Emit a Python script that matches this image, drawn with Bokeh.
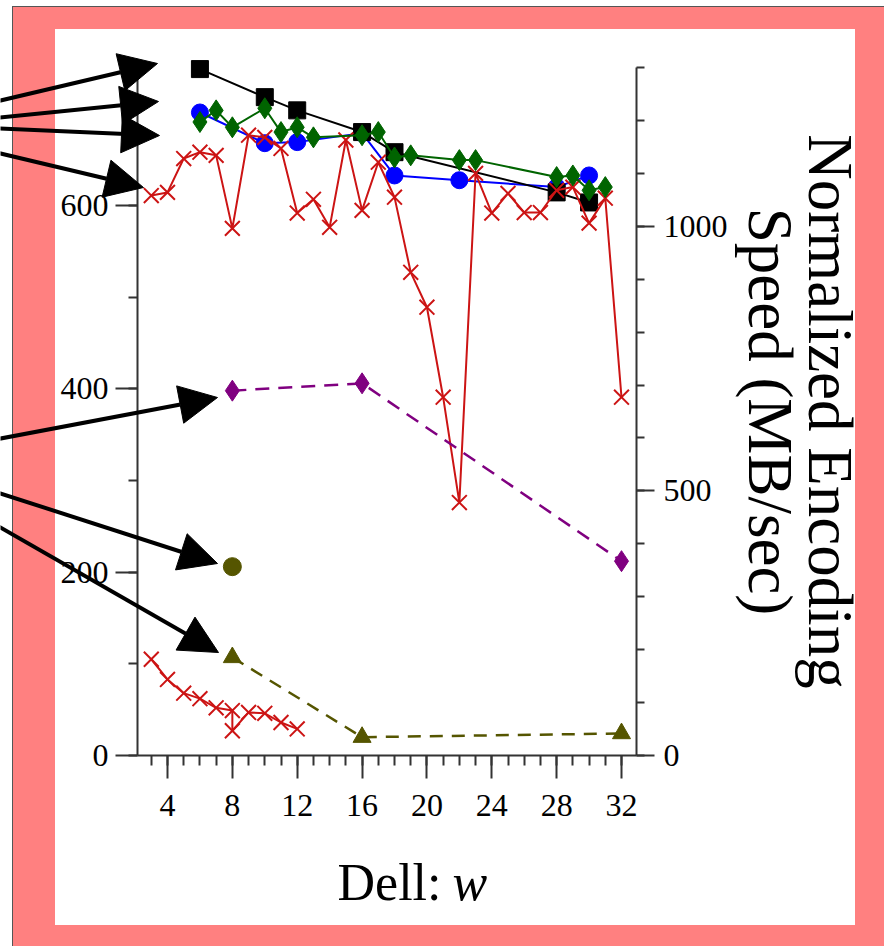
from bokeh.plotting import figure
from bokeh.models import (Range1d, LinearAxis, FixedTicker, Arrow, NormalHead,
                          Label)
from bokeh.embed import file_html
from bokeh.resources import INLINE

# ---------------- data ----------------
# Normalized encoding speed (MB/sec) -> right axis
w_sq = [6, 10, 12, 16, 18, 28, 30]
v_sq = [1297, 1244, 1219, 1178, 1140, 1064, 1045]
w_ci = [6, 10, 12, 16, 18, 22, 28, 30]
v_ci = [1215, 1157, 1159, 1176, 1096, 1087, 1074, 1096]
w_di = [6, 7, 8, 10, 11, 12, 13, 16, 17, 18, 19, 22, 23, 28, 29, 30, 31]
v_di = [1197, 1219, 1187, 1223, 1178, 1187, 1168, 1172, 1178, 1130, 1134,
        1125, 1125, 1093, 1096, 1068, 1074]
w_x = [3, 4, 5, 6, 7, 8, 9, 10, 11, 12, 13, 14, 15, 16, 17, 18, 19, 20, 21,
       22, 23, 24, 25, 26, 27, 28, 29, 30, 31, 32]
v_x = [1058, 1064, 1128, 1140, 1134, 996, 1172, 1168, 1147, 1025, 1051, 998,
       1163, 1030, 1121, 1055, 913, 847, 677, 478, 1100, 1025, 1062, 1026,
       1026, 1068, 1074, 1006, 1053, 677]
# left axis series
w_pd = [8, 16, 32]
v_pd = [398, 406, 212]
w_oc = [8]
v_oc = [206]
w_tr = [8, 16, 32]
v_tr = [107, 20, 24]
w_lx = [3, 4, 5, 6, 7, 8, 8, 9, 10, 11, 12]
v_lx = [105, 83, 68, 62, 52, 49, 27, 47, 46, 36, 29]

# ticks
x_major = [4, 8, 12, 16, 20, 24, 28, 32]
x_minor = list(range(3, 33))
yl_major = [0, 200, 400, 600]
yl_minor = [0, 100, 200, 300, 400, 500, 600, 700]
yr_major = [0, 500, 1000]
yr_minor = [0, 100, 200, 300, 400, 500, 600, 700, 800, 900, 1000, 1100, 1200, 1300]

# ---------------- geometry (canvas pixels) ----------------
W, H = 884, 946
AX_L, AX_R, AX_T, AX_B = 137, 636, 67, 755      # where the axes sit
PX_X4, PX_X32 = 167, 621                        # x=4 and x=32
PY_L600 = 205                                   # left value 600
R_TOP = 1300.0                                  # right axis top value

kx = (PX_X32 - PX_X4) / 28.0
ky = (AX_B - PY_L600) / 600.0
kr = (AX_B - AX_T) / R_TOP
x_lo = 4 - PX_X4 / kx
x_hi = x_lo + W / kx
y_lo = -(H - AX_B) / ky
y_hi = AX_B / ky
r_lo = -(H - AX_B) / kr
r_hi = AX_B / kr


def dx(px):
    return x_lo + px / kx


def dy(py):
    return (AX_B - py) / ky


SERIF = "Liberation Serif"

p = figure(width=W, height=H, min_border=0,
           x_range=Range1d(x_lo, x_hi), y_range=Range1d(y_lo, y_hi),
           output_backend="svg", toolbar_location=None,
           background_fill_color=None, border_fill_color=None,
           outline_line_color=None, x_axis_type=None, y_axis_type=None)
p.styles = {
    "background": (
        "linear-gradient(#ffffff,#ffffff) 55px 29px / 800px 896px no-repeat, "
        "linear-gradient(#FF8080,#FF8080) 13px 7px / 2000px 2000px no-repeat, "
        "linear-gradient(#555555,#555555) 12px 6px / 2000px 2000px no-repeat, "
        "#ffffff"
    )
}
p.extra_y_ranges = {"speed": Range1d(r_lo, r_hi)}


def style_axis(ax, major, minor, tout, mout, standoff):
    ax.ticker = FixedTicker(ticks=major, minor_ticks=minor)
    ax.axis_line_color = "#333333"
    ax.axis_line_width = 2
    ax.major_tick_line_color = "#333333"
    ax.major_tick_line_width = 2
    ax.minor_tick_line_color = "#333333"
    ax.minor_tick_line_width = 2
    ax.major_tick_in = 0
    ax.minor_tick_in = 0
    ax.major_tick_out = tout
    ax.minor_tick_out = mout
    ax.major_label_text_font = SERIF
    ax.major_label_text_font_size = "32px"
    ax.major_label_text_color = "black"
    ax.major_label_standoff = standoff


xax = LinearAxis(fixed_location=0, bounds=(dx(AX_L), dx(AX_R)))
style_axis(xax, x_major, x_minor, 23, 10, 16)
p.add_layout(xax, "below")

lax = LinearAxis(fixed_location=dx(AX_L), bounds=(0, dy(AX_T)))
style_axis(lax, yl_major, yl_minor, 22, 9, 7)
p.add_layout(lax, "left")

rax = LinearAxis(y_range_name="speed", fixed_location=dx(AX_R),
                 bounds=(0, R_TOP))
style_axis(rax, yr_major, yr_minor, 18, 8, 9)
rax.axis_label = "Normalized Encoding\nSpeed (MB/sec)"
rax.axis_label_text_font = SERIF
rax.axis_label_text_font_style = "normal"
rax.axis_label_text_color = "black"
rax.axis_label_text_font_size = "63px"
rax.axis_label_text_line_height = 0.86
rax.axis_label_standoff = 4
p.add_layout(rax, "right")

# x axis title "Dell: w" (w in italics)
p.add_layout(Label(x=dx(337), y=dy(882), text="Dell:", text_font=SERIF,
                   text_font_size="52px", text_align="left",
                   text_baseline="alphabetic", text_color="black"))
p.add_layout(Label(x=dx(452), y=dy(882), text="w", text_font=SERIF,
                   text_font_style="italic", text_font_size="52px",
                   text_align="left", text_baseline="alphabetic",
                   text_color="black"))

# ---------------- series ----------------
RED = "#CC1414"
GREEN = "#006400"
BLUE = "#0000FF"
PURPLE = "#800080"
OLIVE = "#555500"

# upper group (right axis)
p.line(w_ci, v_ci, y_range_name="speed", line_color=BLUE, line_width=2)
p.scatter(w_ci, v_ci, y_range_name="speed", marker="circle", size=17,
          fill_color=BLUE, line_color=BLUE)
p.line(w_sq, v_sq, y_range_name="speed", line_color="black", line_width=2)
p.scatter(w_sq, v_sq, y_range_name="speed", marker="square", size=17,
          fill_color="black", line_color="black")
p.line(w_x, v_x, y_range_name="speed", line_color=RED, line_width=2)
p.scatter(w_x, v_x, y_range_name="speed", marker="x", size=21,
          line_color=RED, line_width=2)
p.line(w_di, v_di, y_range_name="speed", line_color=GREEN, line_width=2)
p.scatter(w_di, v_di, y_range_name="speed", marker="diamond", size=21,
          fill_color=GREEN, line_color=GREEN)

# lower group (left axis)
p.line(w_pd, v_pd, line_color=PURPLE, line_width=2.5, line_dash="14 9")
p.scatter(w_pd, v_pd, marker="diamond", size=21, fill_color=PURPLE,
          line_color=PURPLE)
p.scatter(w_oc, v_oc, marker="circle", size=18, fill_color=OLIVE,
          line_color=OLIVE)
p.line(w_tr, v_tr, line_color=OLIVE, line_width=2.5, line_dash="13 9")
p.scatter(w_tr, v_tr, marker="triangle", size=18, fill_color=OLIVE,
          line_color=OLIVE)
p.line(w_lx, v_lx, line_color=RED, line_width=2)
p.scatter(w_lx, v_lx, marker="x", size=21, line_color=RED, line_width=2)

# ---------------- arrows (canvas pixel start -> tip) ----------------
arrows = [
    ((-20, 104.7), (157, 63)),
    ((-20, 119.0), (158, 101)),
    ((-20, 127.1), (159, 135)),
    ((-20, 148.2), (143, 187)),
    ((-20, 441.8), (217, 397)),
    ((-20, 486.5), (217, 563)),
    ((-20, 515.5), (218, 652)),
]
for (sx, sy), (ex, ey) in arrows:
    p.add_layout(Arrow(end=NormalHead(size=38, fill_color="black",
                                      line_color="black", line_width=1),
                       x_start=dx(sx), y_start=dy(sy),
                       x_end=dx(ex), y_end=dy(ey),
                       line_color="black", line_width=4, level="overlay"))

open("out.html", "w").write(file_html(p, INLINE))
